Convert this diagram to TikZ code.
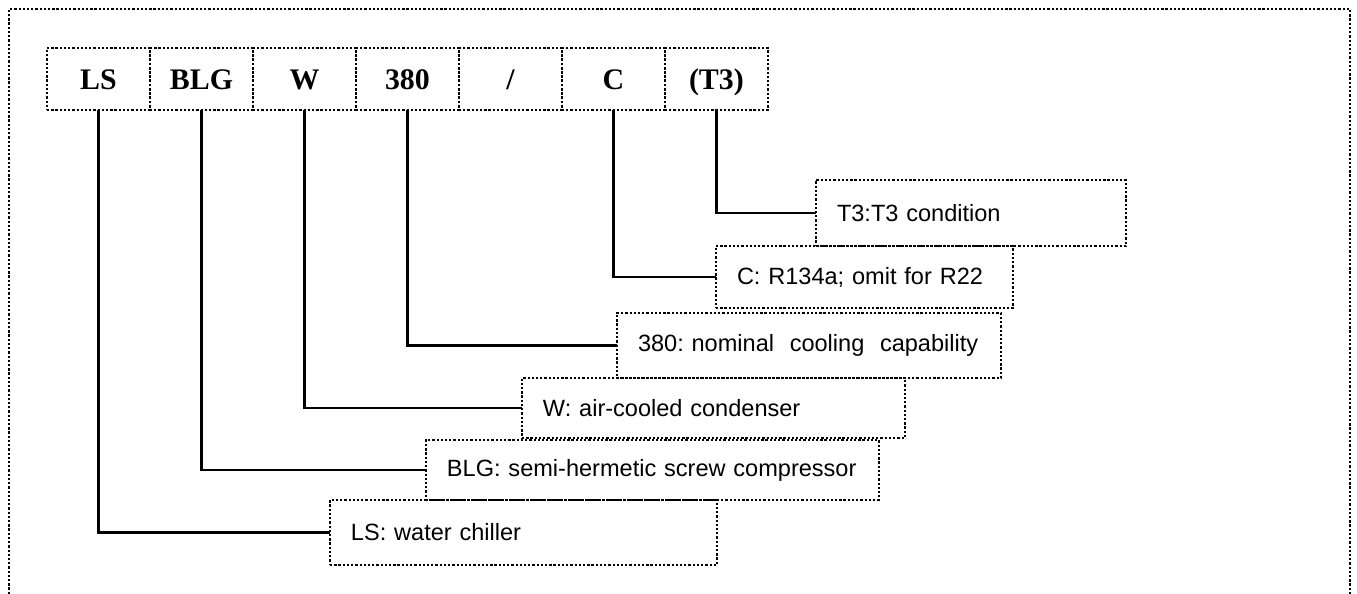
\documentclass[tikz,border=0pt]{standalone}
\usepackage{fontspec}
\setmainfont{Liberation Serif}
\newfontfamily\notefont{Liberation Sans}
\usetikzlibrary{positioning}

\begin{document}
\begin{tikzpicture}[x=0.02cm,y=-0.02cm,
  dots/.style={line width=1.4pt,dash pattern=on 1.3pt off 1.1pt},
  code/.style={dots,draw,minimum width=2.06cm,minimum height=1.24cm,inner sep=0pt,outer sep=0pt,
    text height=11.4pt,text depth=0pt,font=\fontsize{17}{20}\selectfont\bfseries},
  note/.style={dots,draw,anchor=north west,inner xsep=0.42cm,inner ysep=0pt,outer sep=0pt,align=left,
    font=\notefont\fontsize{13.4}{16}\selectfont},
  link/.style={line width=1.3pt}]
\useasboundingbox (0,0) rectangle (1357,594);
\draw[dots] (9,594) |- (1350,9) -- (1350,594);
% model code
\node[code] (ls) at (98.5,79) {LS};
\node[code,right=0pt of ls] (blg) {BLG};
\node[code,right=0pt of blg] (w) {W};
\node[code,right=0pt of w] (cap) {380};
\node[code,right=0pt of cap] (sl) {/};
\node[code,right=0pt of sl] (c) {C};
\node[code,right=0pt of c] (t3) {(T3)};
% explanations
\node[note,text width=5.36cm,minimum height=1.32cm] (t3note) at (816,180) {\mbox{T3:T3 condition}};
\node[note,text width=5.10cm,minimum height=1.24cm] (cnote) at (716,246) {\mbox{C: R134a; omit for R22}};
\node[note,text width=6.84cm,minimum height=1.30cm] (capnote) at (617,313) {\mbox{380:\ nominal\ \ cooling\ \ capability}};
\node[note,text width=6.82cm,minimum height=1.20cm] (wnote) at (522,378) {\mbox{W: air-cooled condenser}};
\node[note,text width=8.22cm,minimum height=1.20cm] (blgnote) at (426,440) {\mbox{BLG: semi-hermetic screw compressor}};
\node[note,text width=6.90cm,minimum height=1.30cm] (lsnote) at (330,500) {\mbox{LS: water chiller}};
\draw[link] (t3.south) |- (t3note.west);
\draw[link] (c.south) |- (cnote.west);
\draw[link] (cap.south) |- (capnote.west);
\draw[link] (w.south) |- (wnote.west);
\draw[link] (blg.south) |- (blgnote.west);
\draw[link] (ls.south) |- (lsnote.west);
\end{tikzpicture}
\end{document}
